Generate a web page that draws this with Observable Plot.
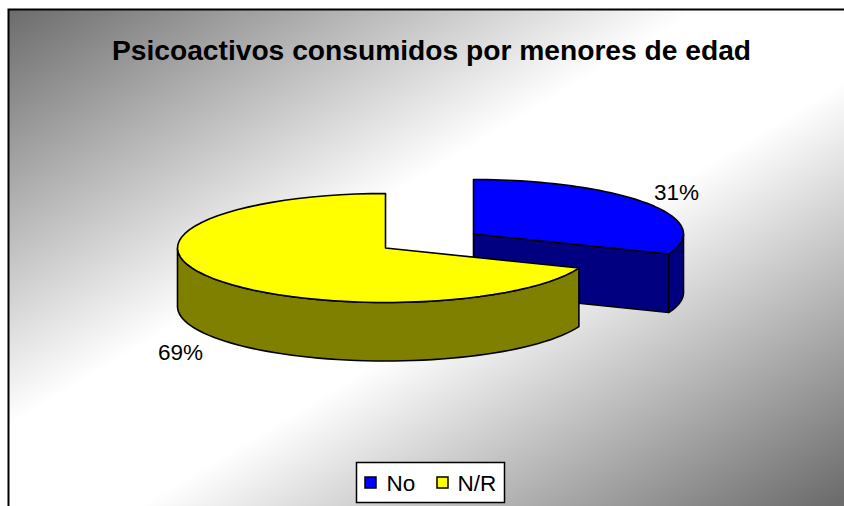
<!DOCTYPE html>
<html><head><meta charset="utf-8">
<script src="https://cdn.jsdelivr.net/npm/d3@7"></script>
<script src="https://cdn.jsdelivr.net/npm/@observablehq/plot@0.6"></script>
<style>html,body{margin:0;padding:0;background:#fff;overflow:hidden}svg{display:block}</style>
</head><body><div id="chart"></div>
<script>
const categories = ["No", "N/R"];
const shares = [31, 69];
const shareLabels = ["31%", "69%"];
const topColors = ["#0000ff", "#ffff00"];
const sideColors = ["#000080", "#808000"];
const titleText = "Psicoactivos consumidos por menores de edad";

// pie projection settings
const W = 844, H = 506;
const centers = [[473, 233.5], [385, 247.5]];
const radiiX = [210, 208];
const ry = 54.5, depth = 58.5;

const total = d3.sum(shares);
const angles = d3.cumsum([0, ...shares]).map(v => v / total * 2 * Math.PI);
const pt = (i, t, dy = 0) => ({x: centers[i][0] + radiiX[i] * Math.sin(t), y: centers[i][1] - ry * Math.cos(t) + dy});
const arc = (i, a, b, dy = 0) => d3.range(0, 61).map(k => pt(i, a + (b - a) * k / 60, dy));
const closed = p => [...p, p[0]];

const polyMark = (points, fill) => Plot.line(closed(points), {x: "x", y: "y", fill, stroke: "#000", strokeWidth: 1.6, strokeLinejoin: "round", curve: "linear"});

function sliceMarks(i) {
  const c = centers[i], a = angles[i], b = angles[i + 1];
  const marks = [];
  const front0 = Math.max(a, Math.PI / 2), front1 = Math.min(b, 3 * Math.PI / 2);
  if (i === 0) {
    // visible cut face at the end of the slice
    const o = {x: c[0], y: c[1]}, e = pt(i, b);
    marks.push(polyMark([o, e, {x: e.x, y: e.y + depth}, {x: o.x, y: o.y + depth}], sideColors[i]));
  }
  const ra = arc(i, front0, front1);
  const rb = arc(i, front0, front1, depth).reverse();
  marks.push(polyMark([...ra, ...rb], sideColors[i]));
  marks.push(polyMark([{x: c[0], y: c[1]}, ...arc(i, a, b)], topColors[i]));
  return marks;
}

// gradient runs across the bottom-left to top-right diagonal
const gradient = () => {
  const svgNS = "http://www.w3.org/2000/svg";
  const defs = document.createElementNS(svgNS, "defs");
  const g = document.createElementNS(svgNS, "linearGradient");
  g.setAttribute("id", "bg");
  g.setAttribute("gradientUnits", "userSpaceOnUse");
  g.setAttribute("x1", 202); g.setAttribute("y1", -107);
  g.setAttribute("x2", 640); g.setAttribute("y2", 621);
  [[0, "#6c6c6c"], [0.42, "#ffffff"], [0.58, "#ffffff"], [1, "#6c6c6c"]].forEach(([o, col]) => {
    const s = document.createElementNS(svgNS, "stop");
    s.setAttribute("offset", o); s.setAttribute("stop-color", col);
    g.appendChild(s);
  });
  defs.appendChild(g);
  return defs;
};

const font = "Liberation Sans, Arial, sans-serif";
const legendItems = categories.map((name, i) => ({name, color: topColors[i], sx: [365, 437][i], tx: [386, 457][i]}));

const chart = Plot.plot({
  width: W, height: H, margin: 0,
  x: {domain: [0, W], range: [0, W], axis: null},
  y: {domain: [0, H], range: [0, H], axis: null},
  style: {background: "#fff", fontFamily: font},
  marks: [
    gradient,
    Plot.rect([{}], {x1: () => 8.5, x2: () => 860, y1: () => 9.5, y2: () => 520, fill: "url(#bg)", stroke: "#000", strokeWidth: 2}),
    ...sliceMarks(0),
    ...sliceMarks(1),
    Plot.text([titleText], {x: () => 431, y: () => 50, text: d => d, fontSize: 28.2, fontWeight: "bold", fill: "#000", fontFamily: font}),
    Plot.text([shareLabels[0]], {x: () => 676, y: () => 192.5, text: d => d, fontSize: 22.5, fill: "#000", fontFamily: font}),
    Plot.text([shareLabels[1]], {x: () => 180, y: () => 352.5, text: d => d, fontSize: 22.5, fill: "#000", fontFamily: font}),
    Plot.rect([{}], {x1: () => 356.5, x2: () => 504.5, y1: () => 462.5, y2: () => 502.5, fill: "#fff", stroke: "#000", strokeWidth: 1.5}),
    Plot.rect(legendItems, {x1: d => d.sx, x2: d => d.sx + 11, y1: () => 477, y2: () => 488, fill: "color", stroke: "#000", strokeWidth: 1.5}),
    Plot.text(legendItems, {x: "tx", y: () => 483, text: "name", textAnchor: "start", fontSize: 22.5, fill: "#000", fontFamily: font})
  ]
});
document.getElementById("chart").appendChild(chart);
</script></body></html>
